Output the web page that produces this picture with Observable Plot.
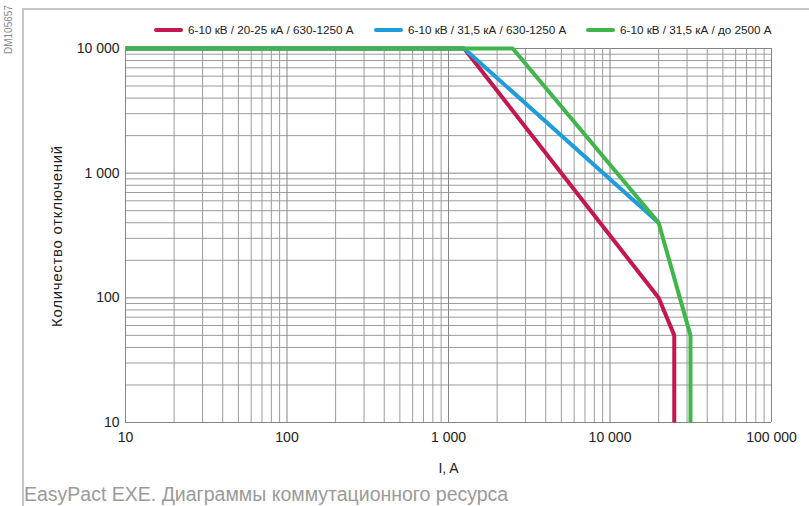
<!DOCTYPE html>
<html>
<head>
<meta charset="utf-8">
<script src="https://cdn.jsdelivr.net/npm/d3@7"></script>
<script src="https://cdn.jsdelivr.net/npm/@observablehq/plot@0.6"></script>
<style>
  html, body { margin: 0; padding: 0; background: #fff; }
  #wrap { position: relative; width: 809px; height: 506px; overflow: hidden; font-family: "Liberation Sans", Arial, sans-serif; }
  #frameL { position: absolute; left: 22px; top: 8px; width: 1.5px; height: 498px; background: #c6c6c6; }
  #frameT { position: absolute; left: 22px; top: 8px; width: 787px; height: 1.5px; background: #c6c6c6; }
  #dm { position: absolute; left: 3px; top: 54px; transform-origin: 0 0; transform: rotate(-90deg); font-size: 10px; color: #8a8a8a; white-space: nowrap; }
  .leg { position: absolute; top: 23px; display: flex; align-items: center; font-size: 11.7px; color: #222; white-space: nowrap; }
  .sw { width: 29px; height: 4px; border-radius: 2px; margin-right: 5px; }
  #ylab { position: absolute; left: 56px; top: 236px; transform: translate(-50%, -50%) rotate(-90deg); font-size: 15px; letter-spacing: 0.7px; color: #222; white-space: nowrap; }
  #caption { position: absolute; left: 24px; top: 483px; font-size: 19.5px; color: #9a9a9a; white-space: nowrap; }
  #chart { position: absolute; left: 0; top: 0; }
</style>
</head>
<body>
<div id="wrap">
  <div id="chart"></div>
  <div id="frameL"></div>
  <div id="frameT"></div>
  <div id="dm">DM105657</div>
  <div id="legend"></div>
  <div id="ylab">Количество отключений</div>
  <div id="caption">EasyPact EXE. Диаграммы коммутационного ресурса</div>
</div>
<script>
// Series names and colors
const seriesNames = [
  "6-10 кВ / 20-25 кА / 630-1250 А",
  "6-10 кВ / 31,5 кА / 630-1250 А",
  "6-10 кВ / 31,5 кА / до 2500 А"
];
const seriesColors = ["#c4164f", "#1f9ddb", "#3fb54b"];

// Series values: current I (A) and number of operations
const redCurrent   = [10, 1250, 20000, 25000, 25000];
const redOps       = [10000, 10000, 100, 50, 10];
const blueCurrent  = [10, 1250, 20000];
const blueOps      = [10000, 10000, 400];
const greenCurrent = [10, 2500, 20000, 31500, 31500];
const greenOps     = [10000, 10000, 400, 50, 10];

// Tick labels
const xTicks = [10, 100, 1000, 10000, 100000];
const yTicks = [10, 100, 1000, 10000];
const xMinor = [20,30,40,50,60,70,80,90,200,300,400,500,600,700,800,900,2000,3000,4000,5000,6000,7000,8000,9000,20000,30000,40000,50000,60000,70000,80000,90000];
const yMinor = [20,30,40,50,60,70,80,90,200,300,400,500,600,700,800,900,2000,3000,4000,5000,6000,7000,8000,9000];

const toRows = (xs, ys, s) => xs.map((x, i) => ({I: x, N: ys[i], s}));
const rows = [
  ...toRows(redCurrent, redOps, seriesNames[0]),
  ...toRows(blueCurrent, blueOps, seriesNames[1]),
  ...toRows(greenCurrent, greenOps, seriesNames[2])
];

const fmt = d => d3.format(",")(d).replace(/,/g, " ");

const chart = Plot.plot({
  width: 809,
  height: 480,
  marginLeft: 125,
  marginRight: 38,
  marginTop: 48,
  marginBottom: 58,
  style: { fontFamily: "'Liberation Sans', Arial, sans-serif", color: "#222", background: "transparent" },
  x: { type: "log", domain: [10, 100000] },
  y: { type: "log", domain: [10, 10000] },
  color: { domain: seriesNames, range: seriesColors },
  marks: [
    Plot.gridX(xMinor, { stroke: "#9c9c9c", strokeOpacity: 1, strokeWidth: 1 }),
    Plot.gridY(yMinor, { stroke: "#9c9c9c", strokeOpacity: 1, strokeWidth: 1 }),
    Plot.gridX(xTicks, { stroke: "#858585", strokeOpacity: 1, strokeWidth: 1 }),
    Plot.gridY(yTicks, { stroke: "#858585", strokeOpacity: 1, strokeWidth: 1 }),
    Plot.axisX(xTicks, { tickFormat: fmt, tickSize: 0, tickPadding: 10, fontSize: 14, label: null }),
    Plot.axisY(yTicks, { tickFormat: fmt, tickSize: 0, tickPadding: 6, fontSize: 14, label: null }),
    Plot.line(rows, { x: "I", y: "N", z: "s", stroke: "s", strokeWidth: 4, strokeLinejoin: "miter", strokeLinecap: "butt" }),
    Plot.text(["I, A"], { frameAnchor: "bottom", dy: 50, fontSize: 14, fill: "#222" })
  ]
});
document.getElementById("chart").appendChild(chart);

// Legend
const legendLefts = [154, 374, 586];
const legend = document.getElementById("legend");
seriesNames.forEach((name, i) => {
  const item = document.createElement("div");
  item.className = "leg";
  item.style.left = legendLefts[i] + "px";
  const sw = document.createElement("div");
  sw.className = "sw";
  sw.style.background = seriesColors[i];
  const tx = document.createElement("span");
  tx.textContent = name;
  item.appendChild(sw);
  item.appendChild(tx);
  legend.appendChild(item);
});
</script>
</body>
</html>
